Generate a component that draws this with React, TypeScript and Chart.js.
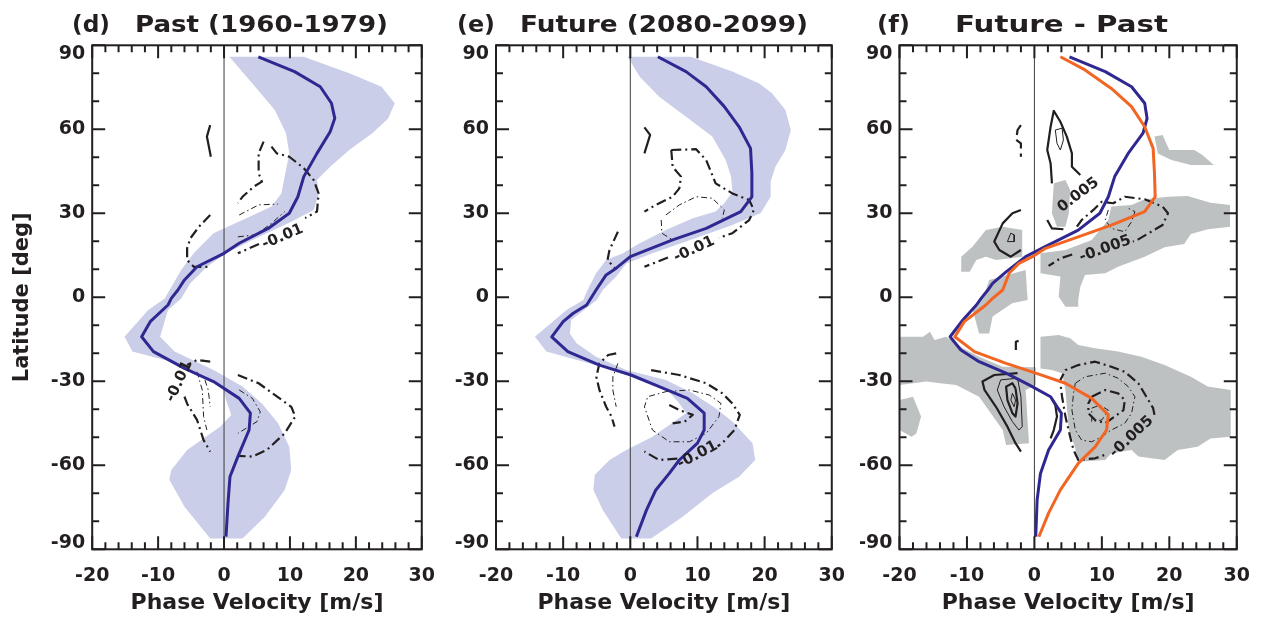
import React, { useEffect, useRef } from 'react';
import { Chart, registerables } from 'chart.js';
Chart.register(...registerables);

type Pt = [number, number];

const W = 1265;
const H = 619;
const FONT = '"DejaVu Sans", sans-serif';
const INK = '#231f20';
const BAND = '#cbcee9';
const BLUE = '#2f2891';
const ORANGE = '#f26522';
const GREY = '#bec1c2';
const PLOT_TOP = 45.3;
const PLOT_BOTTOM = 549.3;

// axes
const X_MIN = -20, X_MAX = 30, X_STEP = 10, X_MINOR = 2;
const Y_MIN = -90, Y_MAX = 90, Y_STEP = 30, Y_MINOR = 10;
const X_TITLE = 'Phase Velocity [m/s]';
const Y_TITLE = 'Latitude [deg]';

// ---------- (d) Past ----------
const pastMean: Pt[] = [[5.2,85.9],[10.7,80.6],[14.6,75.2],[16.3,69.3],[16.8,63.9],[16.1,59.1],[14.1,51.4],[12.1,43.1],[11.2,35.9],[9.9,30],[6.7,24.6],[2.3,19.3],[0,15.7],[-4.1,10.9],[-6.0,6.2],[-7.0,2.6],[-8.0,-0.4],[-8.5,-2.75],[-11.2,-8.7],[-12.5,-14.1],[-10.7,-19.4],[-6.0,-25.4],[-1.6,-30.1],[2.3,-36.1],[4.0,-41.4],[3.8,-47.4],[2.1,-56.9],[0.9,-64.1],[0.6,-73.6],[0.3,-85.5]];
const pastBand: Pt[] = [[0.8,85.9],[4.3,76.4],[7.7,66.9],[9.4,58.6],[9.9,51.4],[9.2,43.1],[8.7,37.1],[7.2,32.4],[2.8,27.6],[-1.6,22.9],[-4.6,15.7],[-6.5,9.75],[-9.0,-0.4],[-11.5,-4.5],[-15.1,-14.1],[-13.9,-19.4],[-8.0,-23],[-3.1,-27.8],[-0.15,-31.9],[0.3,-36.7],[1.1,-42.0],[-0.6,-46.2],[-5.6,-54.5],[-8.0,-61.7],[-8.3,-65.2],[-6.0,-74.8],[-2.1,-86.1],
  [2.8,-86.1],[6.2,-78.4],[9.2,-68.8],[10.2,-61.7],[9.9,-53.4],[8.2,-45],[5.75,-37.9],[2.8,-31.9],[-1.6,-26],[-7.5,-19.4],[-9.7,-14.1],[-8.5,-4.5],[-6.5,-0.4],[-5.1,5],[-2.6,10.9],[0.3,15.7],[4.3,20.5],[10.2,27],[13.6,31.2],[14.4,37.1],[14.1,41.9],[16.1,46.6],[19.0,52.6],[22.5,58.6],[24.9,63.9],[25.9,69.3],[23.9,75.2],[19.0,80],[12.1,85.9]];
const pastArc: Pt[] = [[-2.1,61.5],[-2.6,57.4],[-2.0,50.2]];
const pastN1: Pt[] = [[6.0,55.6],[5.25,51.4],[5.25,44.3],[5.75,41.3],[4.5,39.5],[2.8,35.9],[2.1,33.6]];
const pastN2a: Pt[] = [[7.2,53.8],[8.0,51.4],[9.9,50.2],[12.1,46.1],[13.6,41.9],[14.35,37.1],[14.1,30.6],[12.3,28.3]];
const pastN2b: Pt[] = [[5.3,19.0],[2.1,15.7]];
const pastN3: Pt[] = [[2.3,29.4],[5.25,33],[8.2,33.3]];
const pastN4: Pt[] = [[2.1,21.6],[4.8,22.3],[7.2,26.4],[9.2,30.6]];
const pastN5: Pt[] = [[-2.1,29.4],[-3.8,25.2],[-5.1,21.1],[-5.6,17.5],[-5.6,13.3],[-4.6,10.9],[-2.4,10.9]];
const pastS1: Pt[] = [[2.1,-27.75],[5.25,-30.7],[10.2,-39.1],[10.8,-42.6],[9.2,-48.6],[6.5,-54.5],[4.3,-56.9],[2.1,-56.6]];
const pastS2a: Pt[] = [[-2.1,-23],[-4.1,-22.4],[-5.6,-24.2]];
const pastS2b: Pt[] = [[-6.0,-35.5],[-5.6,-38],[-4.1,-43.8],[-3.1,-51],[-2.1,-55.1]];
const pastS3: Pt[] = [[-4.1,-26.6],[-3.3,-33.1],[-3.1,-42.6],[-2.6,-47.4]];
const pastS4: Pt[] = [[-2.9,-29.5],[-2.4,-33.1],[-2.1,-39.1]];
const pastS5: Pt[] = [[2.3,-33.1],[4.3,-36.1],[5.5,-40.9],[5.0,-44.4],[2.1,-48.6]];
const pastLabels = [{ text: '-0.01', x: 8.9, y: 21.6, rot: -23 }, { text: '-0.01', x: -6.8, y: -30.1, rot: -65 }];

// ---------- (e) Future ----------
const futMean: Pt[] = [[4.1,85.9],[8.3,80.6],[11.3,75.2],[14.0,68.1],[16.2,60.9],[17.9,53.2],[18.1,44.3],[18.1,35.9],[16.45,30.6],[11.3,24.6],[6.3,20.5],[0,14.5],[-2.1,10.4],[-3.6,8],[-5.1,2.6],[-6.5,-2.75],[-8.5,-5.7],[-10.0,-8.7],[-11.7,-14.1],[-9.3,-19.4],[-4.6,-24.2],[0.1,-27.75],[4.3,-31.9],[8.5,-36.1],[11.0,-41.4],[11.0,-47.4],[10.0,-52.1],[7.3,-58.1],[5.8,-62.9],[3.8,-68.8],[2.4,-76],[0.9,-85.5]];
const futBand: Pt[] = [[-0.4,85.9],[1.4,78.8],[4.3,71.6],[8.3,64.5],[12.2,57.4],[14.2,49],[15.0,43.1],[15.2,37.7],[14.0,33.6],[12.7,30.6],[9.3,28.2],[5.3,24],[1.4,19.3],[-1.1,15.7],[-3.6,13.3],[-5.1,8.6],[-6.5,2.0],[-7.0,-1],[-9.5,-4.5],[-14.2,-14.1],[-12.5,-19.4],[-7.0,-23],[-0.6,-27.1],[5.3,-32.5],[7.3,-37.9],[8.3,-41.4],[3.3,-49.8],[-0.6,-54.5],[-3.1,-58.1],[-5.3,-63.5],[-5.5,-68.8],[-4.1,-76],[-1.35,-86.1],
  [3.1,-86.1],[7.8,-78.4],[12.2,-70],[16.2,-64.1],[18.6,-58.1],[18.2,-52.1],[15.2,-44.4],[12.7,-39.6],[9.3,-34.3],[5.3,-29.5],[-0.6,-26],[-5.1,-21.2],[-8.0,-16.4],[-9.0,-12.9],[-8.8,-8.1],[-7.5,-5.7],[-5.0,-1],[-4.1,2.6],[-2.1,7.4],[-0.6,12.1],[3.3,15.7],[10.3,21.6],[15.2,25.8],[19.4,30],[20.9,35.9],[20.9,41.3],[21.6,46.6],[23.1,52.6],[23.9,59.75],[23.1,66.9],[21.1,72.9],[19.2,76.4],[15.2,80.6],[9.0,85.9]];
const futArc: Pt[] = [[2.1,60.7],[2.95,58],[2.1,51.4]];
const futN1: Pt[] = [[6.1,52.6],[6.3,46.6],[7.55,43.1],[7.3,38.9],[6.3,35.9],[3.8,33],[2.1,30.6]];
const futN2a: Pt[] = [[6.1,52.6],[9.8,52.9],[11.3,49],[12.0,44.9],[12.7,40.7],[15.2,37.1],[17.7,34.75],[18.4,31.2],[17.7,27.6],[15.2,22.9],[13.2,21.2]];
const futN2b: Pt[] = [[5.6,14.2],[2.1,10.9]];
const futN3: Pt[] = [[5.3,29.4],[7.3,33],[9.8,35.9],[12.2,35.4],[14.0,31.2],[13.7,28.2]];
const futN4: Pt[] = [[4.6,27.6],[4.7,22.9],[6.3,20.5]];
const futN5: Pt[] = [[-1.85,23.4],[-3.1,16.9],[-3.4,13.3],[-2.3,10.4]];
const futS1: Pt[] = [[-2.1,-20],[-3.3,-20.6],[-4.6,-23.6],[-5.06,-28.4],[-4.6,-33.1],[-3.6,-39.1],[-2.8,-42.6],[-2.35,-46.2]];
const futS2: Pt[] = [[-1.85,-23.6],[-2.6,-28.4],[-2.6,-33.1],[-2.1,-39.1]];
const futS3a: Pt[] = [[3.1,-26],[7.3,-27.75],[11.3,-30.7],[13.7,-34.3],[15.2,-37.9],[16.3,-42],[15.5,-47.4],[13.7,-52.1],[13.0,-53.2]];
const futS3b: Pt[] = [[7.0,-57.6],[4.3,-58.1],[2.1,-55.1]];
const futS4: Pt[] = [[5.3,-33.7],[8.8,-33.1],[11.75,-34.9],[13.5,-37.9],[13.2,-42.6],[11.3,-48.6],[8.8,-51.6],[5.8,-51.6],[3.3,-47.4],[2.1,-39.1],[2.6,-35.5],[5.3,-33.7]];
const futS5: Pt[] = [[5.8,-38.5],[7.3,-40.3],[9.3,-42],[8.1,-44.4],[6.3,-45]];
const futLabels = [{ text: '-0.01', x: 9.5, y: 17.1, rot: -25 }, { text: '-0.01', x: 10.0, y: -56.3, rot: -28 }];

// ---------- (f) Future - Past ----------
const diffPast: Pt[] = [[5.2,85.9],[10.5,80.6],[14.4,75.2],[16.35,69.3],[16.7,63.9],[16.1,58.6],[13.9,51.4],[11.9,43.1],[10.96,35.9],[9.7,30],[6.5,24],[1.6,18.1],[-1.3,14.5],[-4.2,9.1],[-6.2,5],[-6.9,2.6],[-7.9,-0.4],[-8.6,-2.75],[-10.6,-8.1],[-12.5,-14.1],[-10.9,-18.8],[-8.2,-23],[-4.2,-27.1],[-0.8,-31.3],[2.4,-35.5],[4.0,-41.4],[3.85,-47.4],[2.1,-54.5],[0.9,-62.9],[0.4,-72.4],[0.2,-85.5]];
const diffFuture: Pt[] = [[3.85,85.9],[7.5,81.2],[11.4,74.6],[14.4,68.1],[16.35,60.9],[17.6,53.2],[17.8,44.3],[17.9,35.9],[16.35,30.6],[11.4,25.8],[6.5,21.6],[1.65,17.5],[-0.3,14.5],[-2.3,12.1],[-3.75,8.6],[-4.7,2.6],[-6.2,-0.4],[-7.2,-2.75],[-10.4,-8.7],[-11.8,-14.1],[-8.9,-19.4],[-4.2,-23.6],[0.2,-27.1],[4.6,-30.7],[8.5,-36.1],[10.96,-42],[10.7,-47.4],[9.0,-53.4],[6.5,-59.3],[3.85,-68.8],[2.1,-77.1],[0.66,-85.5]];
const sigA: Pt[] = [[2.87,40.7],[4.6,41.9],[5.3,38.3],[5.1,30],[4.6,25.2],[3.35,25.2],[2.6,30]];
const sigB: Pt[] = [[-10.85,14.5],[-9.15,18.1],[-7.2,24],[-4.7,25.2],[-1.8,24],[-1.8,14.5],[-3.75,13.9],[-5.7,13.3],[-7.2,14.5],[-8.6,13.3],[-9.6,9.1],[-10.85,9.1]];
const sigC: Pt[] = [[0.9,15.7],[4.6,16.9],[8.5,20.5],[10.95,27.6],[11.4,32.4],[14.4,33],[16.35,35],[19.8,35.9],[22.7,36.2],[26.1,33.8],[29.0,33],[29.0,25.2],[25.7,24.3],[23.2,22.6],[22.2,19],[19.3,17.9],[16.35,14.5],[12.4,10.9],[10.5,8.6],[7.5,8],[6.8,3.8],[6.5,-1],[6.5,-3.4],[4.6,-3.4],[3.6,0.2],[3.85,7.4],[0.9,8.6]];
const sigD: Pt[] = [[17.8,57.4],[19.0,58],[20.0,52.6],[23.7,52.6],[24.9,50.8],[26.6,47.25],[23.2,47.25],[20.3,49],[18.3,51.4]];
const sigE: Pt[] = [[-20,-14.1],[-16.5,-14.1],[-15.5,-12.3],[-14.8,-15.25],[-13.1,-14.1],[-10.6,-18.2],[-8.2,-21.2],[-4.7,-24.8],[0.2,-25],[0.2,-31.3],[-1.3,-33.1],[-0.8,-52.1],[-4.2,-52.75],[-4.7,-47.4],[-8.2,-35.5],[-11.6,-31.3],[-14.0,-30.7],[-16.0,-30.1],[-20,-31.3]];
const sigF: Pt[] = [[-6.7,6.2],[-1.3,9.75],[-1.0,-1],[-3.3,-2.1],[-6.2,-6.9],[-6.7,-12.9],[-8.2,-12.9],[-9.15,-4.5],[-7.5,0.5]];
const sigG: Pt[] = [[-20,-36.7],[-18,-35.5],[-16.8,-42.6],[-17.5,-48.6],[-18.2,-49.8],[-20,-47.4]];
const sigH: Pt[] = [[0.9,-14.1],[3.6,-13.5],[5.3,-14.6],[6.5,-17],[9.0,-18.2],[12.4,-19.4],[15.85,-21.2],[19.3,-24.2],[23.2,-28.4],[25.7,-31.9],[29.1,-33.1],[29.1,-49.8],[26.1,-50.4],[24.2,-53.4],[21.25,-54.5],[19.3,-58.1],[15.4,-56.9],[14.4,-54.5],[11.4,-55.7],[10.5,-58.1],[6.5,-58.7],[6.0,-53.4],[5.1,-47.4],[4.6,-33.1],[4.1,-27.1],[2.6,-26],[0.9,-25.4]];
const posA1: Pt[] = [[6.8,43.7],[5.56,46.6],[5.56,51.4],[4.8,57.4],[3.85,62.7],[2.87,66.6],[2.4,60.9],[1.9,52.6],[2.4,47.9],[2.6,40.7]];
const posA2: Pt[] = [[1.9,27.6],[2.6,24.6],[4.3,24.3]];
const posA3: Pt[] = [[3.1,59.75],[4.1,60.4],[4.3,56.2],[3.85,52.6],[3.35,55],[3.1,59.75]];
const posB1: Pt[] = [[-2.0,31.2],[-3.26,30],[-4.7,26.4],[-5.95,19.9],[-5.2,16.9],[-3.5,14.5],[-2.0,16.9]];
const posB2: Pt[] = [[-3.5,22.9],[-3.0,22.3],[-3.0,19.9],[-4.0,19.9],[-3.5,22.9]];
const posC1: Pt[] = [[-2.5,-27.1],[-5.95,-27.75],[-7.7,-30.1],[-7.4,-33.1],[-5.7,-39.1],[-4.0,-46.2],[-2.8,-52.1],[-2.0,-55.1]];
const posC2: Pt[] = [[-2.5,-28.9],[-5.0,-29.5],[-5.5,-33.1],[-4.5,-39.1],[-3.26,-44.4],[-2.3,-47.4],[-1.8,-46.2],[-2.0,-35.5],[-2.5,-28.9]];
const posC3: Pt[] = [[-2.8,-32.5],[-3.26,-30.7],[-4.2,-31.9],[-4.0,-36.7],[-3.26,-41.4],[-2.8,-42.6],[-2.5,-37.9],[-2.8,-32.5]];
const posC4: Pt[] = [[-3.26,-34.3],[-3.5,-36.7],[-3.0,-39.1],[-2.8,-36.7],[-3.26,-34.3]];
const posD: Pt[] = [[2.4,-35.5],[3.1,-38.5],[3.35,-42.6],[2.87,-47.4],[2.4,-50.4]];
const posE: Pt[] = [[-2.75,-18.8],[-2.75,-15.9],[-2.0,-15.25]];
const posF: Pt[] = [[-2.0,61.5],[-2.5,59.75],[-2.7,56.2],[-2.0,55],[-2.0,50.2]];
const negA1: Pt[] = [[6.3,25.2],[7.0,27.6],[8.75,31.2],[9.97,34.1],[11.7,33.6],[13.4,35.9],[16.35,35],[19.0,32.4],[19.8,30],[19.0,25.8],[17.3,23.4],[15.4,20.7],[14.6,19.9]];
const negA2: Pt[] = [[5.6,15.3],[3.85,13.9],[2.1,11.2]];
const negA3: Pt[] = [[10.96,31.2],[10.5,27.6],[11.4,24.6],[13.4,23.4],[14.4,27],[14.9,30.6],[13.9,31.8]];
const negB1: Pt[] = [[17.8,-42],[17.6,-39.6],[16.6,-35.5],[15.4,-30.7],[13.4,-26.6],[11.4,-24.8],[9.0,-23],[6.5,-24.2],[4.6,-26],[3.85,-29.5],[3.85,-30.7],[4.1,-35.5],[4.6,-42.6],[5.3,-49.8],[5.8,-54.5],[6.5,-58.1],[9.0,-57.5],[10.8,-56.0]];
const negB2: Pt[] = [[6.06,-30.7],[7.5,-28.4],[10.5,-27.1],[12.4,-28.9],[13.9,-31.9],[14.9,-35.5],[14.4,-41.4],[13.4,-45],[11.4,-47.4],[9.97,-49.8],[8.5,-51.6],[7.0,-51],[6.06,-47.4],[5.56,-40.3],[5.8,-34.3],[6.06,-30.7]];
const negB3: Pt[] = [[8.5,-35.5],[10.5,-33.1],[12.4,-34.3],[13.4,-36.7],[13.2,-40.3],[11.9,-42.6],[10.5,-45],[9.0,-43.8],[8.0,-41.4],[8.0,-37.9],[8.5,-35.5]];
const negB4: Pt[] = [[8.5,-39.6],[9.7,-38.5],[10.96,-40.3],[10.0,-43.8],[8.5,-44.4],[8.5,-39.6]];
const diffLabels = [{ text: '0.005', x: 6.5, y: 36.5, rot: -37 }, { text: '-0.005', x: 10.5, y: 17.3, rot: -20 }, { text: '-0.005', x: 14.4, y: -49.8, rot: -43 }];

const zeroLine: Pt[] = [[0, -90], [0, 90]];

// ---------- dataset helpers ----------
type Kind = 'dd' | 'ddt' | 'ds' | 's' | 'st';
const toXY = (pts: Pt[]) => pts.map(([x, y]) => ({ x, y }));
function poly(pts: Pt[], color: string, order: number) {
  return { data: toXY(pts), showLine: true, fill: 'shape', backgroundColor: color, borderColor: 'rgba(0,0,0,0)', borderWidth: 0, pointRadius: 0, order };
}
function line(pts: Pt[], color: string, width: number, order: number, dash: number[] = []) {
  return { data: toXY(pts), showLine: true, fill: false, borderColor: color, borderWidth: width, borderDash: dash, pointRadius: 0, order, borderJoinStyle: 'round', borderCapStyle: 'butt' };
}
function contour(pts: Pt[], kind: Kind) {
  switch (kind) {
    case 'dd': return line(pts, INK, 2.2, 5, [10, 4, 2, 4]);
    case 'ddt': return line(pts, INK, 1, 5, [6, 3, 1.5, 3]);
    case 'ds': return line(pts, INK, 2.2, 5, [11, 5]);
    case 's': return line(pts, INK, 2.2, 5);
    default: return line(pts, INK, 1, 5);
  }
}
const zero = () => line(zeroLine, '#3c3c3c', 1, 8);

const PANELS = [
  {
    canvasLeft: 0, canvasWidth: 450, plotLeft: 92.2, plotRight: 431.5, yTitle: true,
    titles: [{ text: '(d)', x: 72, w: 38 }, { text: 'Past (1960-1979)', x: 135, w: 253 }],
    labels: pastLabels,
    datasets: () => [
      poly(pastBand, BAND, 10), zero(),
      contour(pastArc, 's'), contour(pastN1, 'dd'), contour(pastN2a, 'dd'), contour(pastN2b, 'dd'),
      contour(pastN3, 'ddt'), contour(pastN4, 'ddt'), contour(pastN5, 'dd'),
      contour(pastS1, 'dd'), contour(pastS2a, 'dd'), contour(pastS2b, 'dd'), contour(pastS3, 'ddt'), contour(pastS4, 'ddt'), contour(pastS5, 'ddt'),
      line(pastMean, BLUE, 3, 2),
    ],
  },
  {
    canvasLeft: 450, canvasWidth: 410, plotLeft: 496, plotRight: 833, yTitle: false,
    titles: [{ text: '(e)', x: 457, w: 38 }, { text: 'Future (2080-2099)', x: 520, w: 288 }],
    labels: futLabels,
    datasets: () => [
      poly(futBand, BAND, 10), zero(),
      contour(futArc, 's'), contour(futN1, 'dd'), contour(futN2a, 'dd'), contour(futN2b, 'dd'),
      contour(futN3, 'ddt'), contour(futN4, 'ddt'), contour(futN5, 'dd'),
      contour(futS1, 'dd'), contour(futS2, 'ddt'), contour(futS3a, 'dd'), contour(futS3b, 'dd'), contour(futS4, 'ddt'), contour(futS5, 'dd'),
      line(futMean, BLUE, 3, 2),
    ],
  },
  {
    canvasLeft: 860, canvasWidth: 405, plotLeft: 899.5, plotRight: 1239, yTitle: false,
    titles: [{ text: '(f)', x: 877, w: 33 }, { text: 'Future - Past', x: 955, w: 213 }],
    labels: diffLabels,
    datasets: () => [
      poly(sigA, GREY, 9), poly(sigB, GREY, 9), poly(sigC, GREY, 9), poly(sigD, GREY, 9),
      poly(sigE, GREY, 9), poly(sigF, GREY, 9), poly(sigG, GREY, 9), poly(sigH, GREY, 9),
      zero(),
      contour(posA1, 's'), contour(posA2, 's'), contour(posA3, 'st'), contour(posB1, 's'), contour(posB2, 'st'),
      contour(posC1, 's'), contour(posC2, 'st'), contour(posC3, 's'), contour(posC4, 'st'), contour(posD, 's'),
      contour(posE, 'ds'), contour(posF, 'ds'),
      contour(negA1, 'dd'), contour(negA2, 'dd'), contour(negA3, 'ddt'),
      contour(negB1, 'dd'), contour(negB2, 'ddt'), contour(negB3, 'dd'), contour(negB4, 'ddt'),
      line(diffPast, BLUE, 3, 2), line(diffFuture, ORANGE, 3, 1),
    ],
  },
];

type PanelCfg = typeof PANELS[number];

function decor(p: PanelCfg) {
  return {
    id: 'decor',
    beforeDraw(chart: any) {
      const ys = chart.scales.y;
      const items = ys.getLabelItems(chart.chartArea);
      items.forEach((it: any, i: number) => {
        if (it._moved) return;
        const v = ys.ticks[i] ? ys.ticks[i].value : null;
        if (v === Y_MAX) it.options.translation[1] += 9;
        if (v === Y_MIN) it.options.translation[1] -= 6;
        it._moved = true;
      });
    },
    afterDatasetsDraw(chart: any) {
      const { ctx } = chart;
      const xs = chart.scales.x, ys = chart.scales.y;
      ctx.save();
      ctx.fillStyle = INK;
      ctx.font = `bold 15px ${FONT}`;
      ctx.textAlign = 'center';
      ctx.textBaseline = 'middle';
      for (const l of p.labels) {
        ctx.save();
        ctx.translate(xs.getPixelForValue(l.x), ys.getPixelForValue(l.y));
        ctx.rotate((l.rot * Math.PI) / 180);
        ctx.fillText(l.text, 0, 0);
        ctx.restore();
      }
      ctx.restore();
    },
    afterDraw(chart: any) {
      const { ctx, chartArea: a } = chart;
      const xs = chart.scales.x, ys = chart.scales.y;
      ctx.save();
      ctx.strokeStyle = INK;
      ctx.lineWidth = 2;
      ctx.beginPath();
      for (let v = X_MIN; v <= X_MAX + 1e-9; v += X_MINOR) {
        const px = xs.getPixelForValue(v);
        const len = Math.abs(v % X_STEP) < 1e-9 ? 13 : 7;
        ctx.moveTo(px, a.bottom); ctx.lineTo(px, a.bottom - len);
        ctx.moveTo(px, a.top); ctx.lineTo(px, a.top + len);
      }
      for (let v = Y_MIN; v <= Y_MAX + 1e-9; v += Y_MINOR) {
        const py = ys.getPixelForValue(v);
        const len = Math.abs(v % Y_STEP) < 1e-9 ? 13 : 7;
        ctx.moveTo(a.left, py); ctx.lineTo(a.left + len, py);
        ctx.moveTo(a.right, py); ctx.lineTo(a.right - len, py);
      }
      ctx.stroke();
      ctx.strokeRect(a.left, a.top, a.right - a.left, a.bottom - a.top);
      // panel title
      ctx.fillStyle = INK;
      ctx.font = `bold 23px ${FONT}`;
      ctx.textAlign = 'left';
      ctx.textBaseline = 'alphabetic';
      for (const t of p.titles) {
        const m = ctx.measureText(t.text).width;
        ctx.save();
        ctx.translate(t.x - p.canvasLeft, 31.5);
        ctx.scale(t.w / m, 1);
        ctx.fillText(t.text, 0, 0);
        ctx.restore();
      }
      ctx.restore();
    },
  };
}

function buildConfig(p: PanelCfg): any {
  const yWidth = p.plotLeft - p.canvasLeft;
  const rightPad = p.canvasLeft + p.canvasWidth - p.plotRight;
  const tickFont = { family: FONT, size: 19, weight: 'bold' };
  return {
    type: 'scatter',
    data: { datasets: p.datasets() },
    options: {
      animation: false,
      responsive: false,
      devicePixelRatio: 1,
      events: [],
      layout: { padding: { top: PLOT_TOP, right: rightPad, left: 0, bottom: 0 } },
      plugins: { legend: { display: false }, tooltip: { enabled: false }, title: { display: false } },
      scales: {
        x: {
          type: 'linear', min: X_MIN, max: X_MAX,
          grid: { display: false, drawTicks: false }, border: { display: false },
          ticks: { stepSize: X_STEP, font: tickFont, color: INK, padding: 15, maxRotation: 0, autoSkip: false },
          title: { display: true, text: X_TITLE, font: { family: FONT, size: 22, weight: 'bold' }, color: INK, padding: { top: 0, bottom: 3 } },
          afterFit: (s: any) => { s.height = H - PLOT_BOTTOM; },
        },
        y: {
          type: 'linear', min: Y_MIN, max: Y_MAX,
          grid: { display: false, drawTicks: false }, border: { display: false },
          ticks: { stepSize: Y_STEP, font: tickFont, color: INK, padding: 7, autoSkip: false },
          title: { display: p.yTitle, text: Y_TITLE, font: { family: FONT, size: 21, weight: 'bold' }, color: INK, padding: { top: 10, bottom: 0 } },
          afterFit: (s: any) => { s.width = yWidth; },
        },
      },
    },
    plugins: [decor(p)],
  };
}

function Panel({ p }: { p: PanelCfg }) {
  const ref = useRef<HTMLCanvasElement>(null);
  useEffect(() => {
    const chart = new Chart(ref.current as HTMLCanvasElement, buildConfig(p));
    return () => chart.destroy();
  }, [p]);
  return (
    <canvas
      ref={ref}
      width={p.canvasWidth}
      height={H}
      style={{ position: 'absolute', left: p.canvasLeft, top: 0, width: p.canvasWidth, height: H }}
    />
  );
}

export default function App() {
  return (
    <div style={{ position: 'fixed', left: 0, top: 0, width: W, height: H, background: '#ffffff', overflow: 'hidden' }}>
      {PANELS.map((p, i) => (
        <Panel key={i} p={p} />
      ))}
    </div>
  );
}
